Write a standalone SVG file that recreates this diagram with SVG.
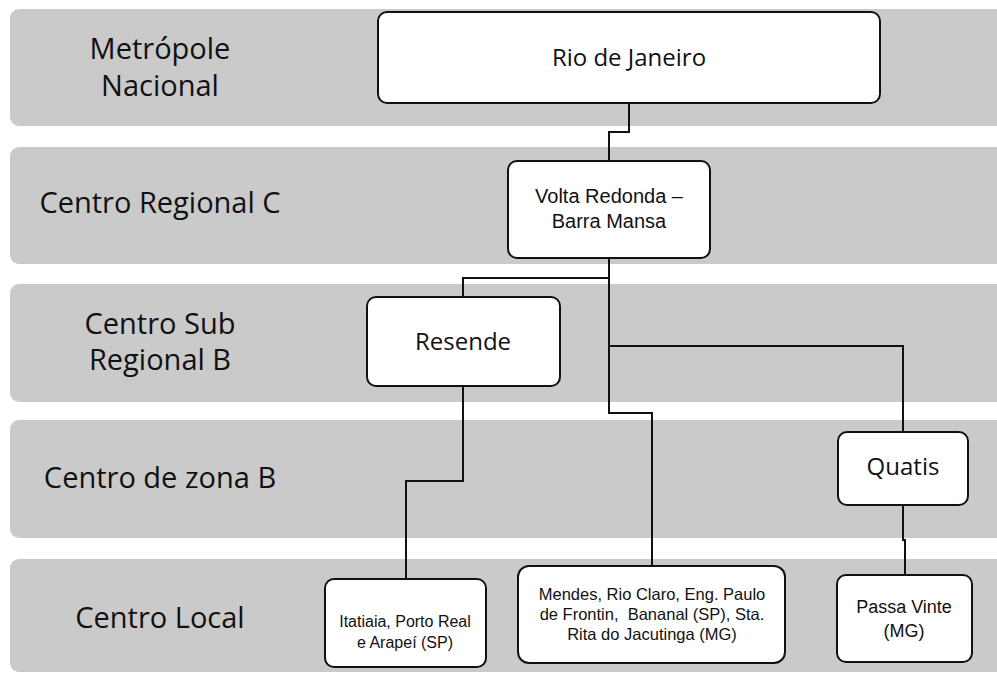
<svg xmlns="http://www.w3.org/2000/svg" width="997" height="673" viewBox="0 0 997 673">
<style>
.band{fill:#cacaca}
.box{fill:#fff;stroke:#111;stroke-width:2}
.lbl{font-family:"Open Sans","Liberation Sans",sans-serif;font-size:29px;fill:#111;text-anchor:middle}
.t{font-family:"Open Sans","Liberation Sans",sans-serif;fill:#111;text-anchor:middle}
.s{font-family:"Liberation Sans",Arial,sans-serif;fill:#111;text-anchor:middle}
.conn{fill:none;stroke:#111;stroke-width:2}
</style>
<rect width="997" height="673" fill="#fff"/>
<g id="bands">
<rect class="band" x="10" y="9" width="1000" height="117" rx="9"/>
<rect class="band" x="10" y="147" width="1000" height="117" rx="9"/>
<rect class="band" x="10" y="284" width="1000" height="118" rx="9"/>
<rect class="band" x="10" y="420" width="1000" height="118" rx="9"/>
<rect class="band" x="10" y="559" width="1000" height="113" rx="9"/>
</g>
<g id="labels">
<text class="lbl" x="160" y="59" font-size="28">Metrópole</text>
<text class="lbl" x="160" y="96" font-size="28">Nacional</text>
<text class="lbl" x="160" y="213">Centro Regional C</text>
<text class="lbl" x="160" y="334">Centro Sub</text>
<text class="lbl" x="160" y="370">Regional B</text>
<text class="lbl" x="160" y="488">Centro de zona B</text>
<text class="lbl" x="160" y="628">Centro Local</text>
</g>
<g id="connectors">
<path class="conn" d="M629,103 V132 H609 V161"/>
<path class="conn" d="M609,258 V278 H463 V297"/>
<path class="conn" d="M609,278 V413 H652 V566"/>
<path class="conn" d="M609,346 H903 V432"/>
<path class="conn" d="M463,386 V481 H406 V579"/>
<path class="conn" d="M903,505 V540 H905 V575"/>
</g>
<g id="rio">
<rect class="box" x="378" y="12" width="502" height="91" rx="9"/>
<text class="t" x="629" y="66" font-size="24">Rio de Janeiro</text>
</g>
<g id="volta">
<rect class="box" x="508" y="161" width="202" height="97" rx="9"/>
<text class="s" x="609" y="203" font-size="20">Volta Redonda –</text>
<text class="s" x="609" y="228" font-size="20">Barra Mansa</text>
</g>
<g id="resende">
<rect class="box" x="367" y="297" width="193" height="89" rx="9"/>
<text class="t" x="463" y="350" font-size="24">Resende</text>
</g>
<g id="quatis">
<rect class="box" x="838" y="432" width="130" height="73" rx="9"/>
<text class="t" x="903" y="475" font-size="24">Quatis</text>
</g>
<g id="itatiaia">
<rect class="box" x="325" y="579" width="161" height="88" rx="9"/>
<text class="s" x="405" y="627" font-size="16">Itatiaia, Porto Real</text>
<text class="s" x="405" y="648" font-size="16">e Arapeí (SP)</text>
</g>
<g id="mendes">
<rect class="box" x="518" y="566" width="267" height="97" rx="11"/>
<text class="s" x="652" y="600" font-size="16.5">Mendes, Rio Claro, Eng. Paulo</text>
<text class="s" x="652" y="620" font-size="16.5" xml:space="preserve">de Frontin,  Bananal (SP), Sta.</text>
<text class="s" x="652" y="640" font-size="16.5">Rita do Jacutinga (MG)</text>
</g>
<g id="passa">
<rect class="box" x="837" y="575" width="135" height="87" rx="9"/>
<text class="s" x="904" y="613" font-size="18">Passa Vinte</text>
<text class="s" x="904" y="637" font-size="18">(MG)</text>
</g>
</svg>
